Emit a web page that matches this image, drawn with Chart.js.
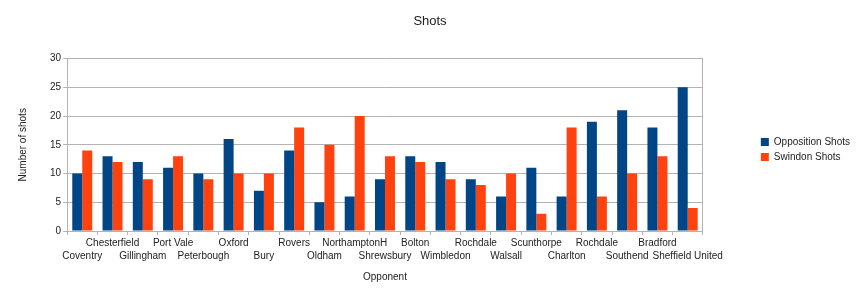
<!DOCTYPE html>
<html>
<head>
<meta charset="utf-8">
<script src="https://cdn.jsdelivr.net/npm/chart.js@4.4.0/dist/chart.umd.min.js"></script>
<style>
  html, body { margin: 0; background: #fff; }
  #wrap { width: 860px; height: 298px; }
</style>
</head>
<body>
<div id="wrap"><canvas id="c"></canvas></div>
<script>
// Shots per match, by opponent
const opponents = ['Coventry', 'Chesterfield', 'Gillingham', 'Port Vale', 'Peterbough', 'Oxford',
  'Bury', 'Rovers', 'Oldham', 'NorthamptonH', 'Shrewsbury', 'Bolton', 'Wimbledon', 'Rochdale',
  'Walsall', 'Scunthorpe', 'Charlton', 'Rochdale', 'Southend', 'Bradford', 'Sheffield United'];
const oppositionShots = [10, 13, 12, 11, 10, 16, 7, 14, 5, 6, 9, 13, 12, 9, 6, 11, 6, 19, 21, 18, 25];
const swindonShots    = [14, 12, 9, 13, 9, 10, 10, 18, 15, 20, 13, 12, 9, 8, 10, 3, 18, 6, 10, 13, 4];
const yMin = 0, yMax = 30, yStep = 5;

const TXT = '#222', GRID = '#b3b3b3';
const FONT = '"Liberation Sans", Arial, sans-serif';
Chart.defaults.font.family = FONT;
Chart.defaults.color = TXT;

new Chart(document.getElementById('c'), {
  type: 'bar',
  data: {
    labels: opponents,
    datasets: [
      { label: 'Opposition Shots', data: oppositionShots, backgroundColor: '#004586' },
      { label: 'Swindon Shots', data: swindonShots, backgroundColor: '#ff420e' },
    ],
  },
  options: {
    responsive: true,
    maintainAspectRatio: false,
    animation: false,
    categoryPercentage: 0.66,
    barPercentage: 1.0,
    layout: { padding: { left: 0, right: 0, top: 0, bottom: 15 } },
    plugins: {
      title: { display: true, text: 'Shots', color: TXT,
               font: { size: 13, weight: 'normal' }, padding: { top: 14, bottom: 29 } },
      legend: {
        position: 'right',
        // empty title only nudges the centred items down a bit
        title: { display: true, text: '', font: { size: 10 }, padding: 2 },
        labels: { boxWidth: 8, boxHeight: 8, padding: 5, color: TXT, font: { size: 10 } },
      },
      tooltip: { enabled: false },
    },
    scales: {
      x: {
        grid: { drawOnChartArea: false, tickLength: 4, color: GRID, offset: true },
        border: { color: GRID },
        ticks: {
          autoSkip: false, maxRotation: 0, padding: 2, color: TXT,
          font: { size: 10, lineHeight: 1.3 },
          // alternate the names on two rows like the original
          callback(v, i) {
            const n = this.getLabelForValue(v);
            return i % 2 ? [n, ''] : ['', n];
          },
        },
        title: { display: true, text: 'Opponent', color: TXT, font: { size: 10 },
                 padding: { top: 6, bottom: 0 } },
      },
      y: {
        min: yMin, max: yMax,
        ticks: { stepSize: yStep, padding: 2, color: TXT, font: { size: 10 } },
        grid: { color: GRID, tickLength: 4 },
        border: { color: GRID },
        title: { display: true, text: 'Number of shots', color: TXT, font: { size: 10 },
                 padding: { top: 17, bottom: 19 } },
      },
      // right frame of the plot + gap before the legend
      y2: {
        position: 'right',
        grid: { display: false },
        ticks: { display: false },
        border: { color: GRID },
        afterFit(s) { s.width = 53; },
      },
    },
  },
});
</script>
</body>
</html>
